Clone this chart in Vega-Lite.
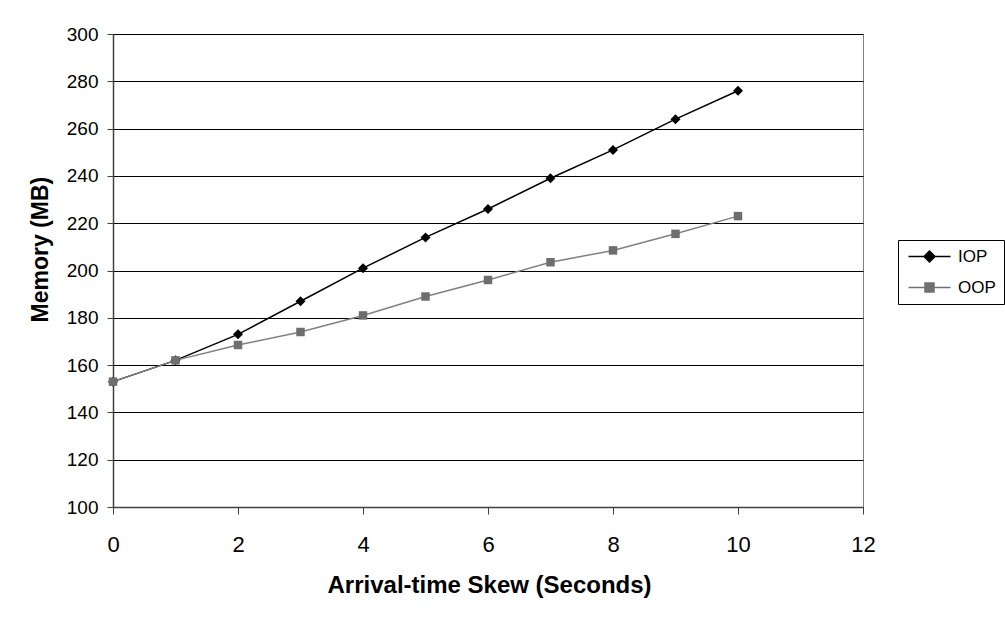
{
  "$schema": "https://vega.github.io/schema/vega-lite/v6.json",
  "width": 750,
  "height": 473,
  "autosize": "none",
  "padding": {"left": 113, "top": 34, "right": 142, "bottom": 116},
  "background": "white",
  "config": {"font": "Liberation Sans", "view": {"stroke": "#808080", "strokeWidth": 1}},
  "data": {"values": [
    {"series": "IOP", "x": 0, "y": 153},
    {"series": "IOP", "x": 1, "y": 162},
    {"series": "IOP", "x": 2, "y": 173},
    {"series": "IOP", "x": 3, "y": 187},
    {"series": "IOP", "x": 4, "y": 201},
    {"series": "IOP", "x": 5, "y": 214},
    {"series": "IOP", "x": 6, "y": 226},
    {"series": "IOP", "x": 7, "y": 239},
    {"series": "IOP", "x": 8, "y": 251},
    {"series": "IOP", "x": 9, "y": 264},
    {"series": "IOP", "x": 10, "y": 276},
    {"series": "OOP", "x": 0, "y": 153},
    {"series": "OOP", "x": 1, "y": 162},
    {"series": "OOP", "x": 2, "y": 168.5},
    {"series": "OOP", "x": 3, "y": 174},
    {"series": "OOP", "x": 4, "y": 181},
    {"series": "OOP", "x": 5, "y": 189},
    {"series": "OOP", "x": 6, "y": 196},
    {"series": "OOP", "x": 7, "y": 203.5},
    {"series": "OOP", "x": 8, "y": 208.5},
    {"series": "OOP", "x": 9, "y": 215.5},
    {"series": "OOP", "x": 10, "y": 223}
  ]},
  "encoding": {
    "x": {
      "field": "x", "type": "quantitative",
      "scale": {"domain": [0, 12], "nice": false},
      "axis": {
        "values": [0, 2, 4, 6, 8, 10, 12],
        "title": "Arrival-time Skew (Seconds)",
        "grid": false,
        "domainColor": "#404040", "domainWidth": 1.5,
        "tickColor": "#404040", "tickSize": 7, "tickWidth": 1,
        "labelFontSize": 22, "labelPadding": 20, "labelColor": "#000", "labelFlush": false,
        "titleFontSize": 24, "titleFontWeight": "bold", "titleColor": "#000",
        "titleX": 214, "titleY": 85, "titleAlign": "left", "titleBaseline": "alphabetic"
      }
    },
    "y": {
      "field": "y", "type": "quantitative",
      "scale": {"domain": [100, 300], "nice": false, "zero": false},
      "axis": {
        "values": [100, 120, 140, 160, 180, 200, 220, 240, 260, 280, 300],
        "title": "Memory (MB)",
        "grid": true, "gridColor": "#000", "gridWidth": 1,
        "domainColor": "#404040", "domainWidth": 1.5,
        "tickColor": "#404040", "tickSize": 6, "tickWidth": 1,
        "labelFontSize": 19, "labelPadding": 9, "labelColor": "#000",
        "titleFontSize": 23, "titleFontWeight": "bold", "titleColor": "#000",
        "titleAngle": 270, "titleX": -66, "titleY": 288, "titleAlign": "left", "titleBaseline": "alphabetic"
      }
    }
  },
  "layer": [
    {
      "transform": [{"filter": "datum.series == 'IOP'"}],
      "mark": {"type": "line", "strokeWidth": 1.5, "color": "#000000"}
    },
    {
      "transform": [{"filter": "datum.series == 'OOP'"}],
      "mark": {"type": "line", "strokeWidth": 1.5, "color": "#808080"}
    },
    {
      "transform": [{"filter": "datum.series == 'IOP'"}],
      "mark": {"type": "point", "shape": "diamond", "filled": true, "size": 100, "color": "#000000", "opacity": 1, "strokeWidth": 1}
    },
    {
      "transform": [{"filter": "datum.series == 'OOP'"}],
      "mark": {"type": "point", "shape": "square", "filled": true, "size": 72, "color": "#6e6e6e", "opacity": 1, "strokeWidth": 1}
    },
    {
      "mark": {"type": "point", "filled": true, "opacity": 0},
      "encoding": {
        "color": {"field": "series", "type": "nominal",
          "scale": {"domain": ["IOP", "OOP"], "range": ["#000000", "#707070"]},
          "legend": {
            "orient": "none", "legendX": 785, "legendY": 206,
            "title": null, "strokeColor": "#000", "fillColor": "#ffffff",
            "padding": 8,
            "labelFontSize": 17, "labelFont": "Liberation Sans", "labelColor": "#000",
            "symbolSize": 100, "labelOffset": 35, "rowPadding": 13,
            "symbolStrokeWidth": 1.5, "symbolOpacity": 1,
            "encode": {"symbols": {"update": {"opacity": {"value": 1}, "stroke": {"scale": "color", "field": "value"}}}}
          }
        },
        "shape": {"field": "series", "type": "nominal",
          "scale": {"domain": ["IOP", "OOP"], "range": ["M-1.2,0H7.2M3,-1.1L4.1,0L3,1.1L1.9,0Z", "M-1.2,0H7.2M2.1,-0.9H3.9V0.9H2.1Z"]}
        }
      }
    }
  ]
}
